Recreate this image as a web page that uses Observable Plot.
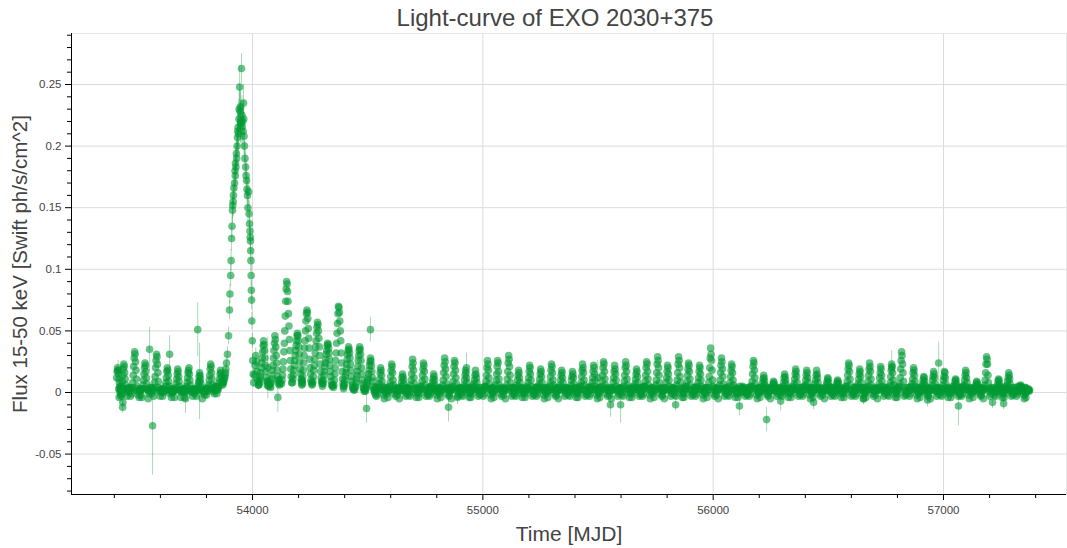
<!DOCTYPE html>
<html><head><meta charset="utf-8">
<script src="https://cdn.jsdelivr.net/npm/d3@7"></script>
<script src="https://cdn.jsdelivr.net/npm/@observablehq/plot@0.6"></script>
<style>body{margin:0;background:#fff}</style>
</head><body><div id="chart"></div>
<script>
const titleText = "Light-curve of EXO 2030+375";
const xLabel = "Time [MJD]";
const yLabel = "Flux 15-50 keV [Swift ph/s/cm^2]";
const xTicks = [54000, 55000, 56000, 57000];
const yTicks = [-0.05, 0, 0.05, 0.1, 0.15, 0.2, 0.25];
const xDomain = [53214, 57534];
const yDomain = [-0.0828, 0.2914];

// sampling offsets (days) around each orbital outburst
const cycleOffset = [-22,-20,-18,-16,-14,-12,-10,-8,-6,-4,-2,0,2,4,6,8,10,12,14,16,18,20,22];
const cycleCenter = [
53414,53441,53488,53533,53583,53630,53675,53722,53770,53818,53861,
54048,54097,54148,54195,54236,54282,54326,54373,54417,54465,54512,
54556,54604,54651,54695,54742,54786,54834,54877,54925,54968,
55020,55064,55112,55155,55203,55251,55298,55342,55389,55433,
55481,55524,55572,55620,55667,55711,55759,55802,55850,55893,
55941,55989,56036,56080,56128,56175,56219,56262,56310,56358,
56406,56449,56497,56540,56588,56636,56679,56727,56775,56818,
56870,56914,56957,57004,57052,57096,57144,57187,57239,57283,
57335,57374];
// flux in units of 0.001 ph/s/cm^2 (null = no observation)
const n = null;
const cycleFlux = [
[n,n,n,n,n,n,n,n,n, 12,17,20,18,15,11,8,5,3,1,-3,2,-1,3],
[3,-4,1,4,-2,2, 3,5,9,14,19,23,21,16,11,6,3, 2,-3,3,0,1,4],
[2,4,-3,3,1,-1, 4,8,14,21,28,33,31,25,18,11,5, 3,1,-2,2,-4,1],
[1,3,-2,2,-4,3, 3,6,10,15,20,24,22,17,12,7,3, 2,-5,1,-1,2,4],
[4,-1,2,1,3,-3, 4,8,13,20,26,31,29,23,16,9,4, 1,2,-3,3,0,2],
[2,-3,3,0,2,1, 2,5,8,12,17,20,18,14,9,5,2, -1,3,1,-4,2,0],
[0,3,1,2,-4,2, 2,4,7,11,15,19,17,13,9,5,2, 1,-4,2,0,3,1],
[3,1,-4,2,0,1, 3,5,8,12,16,18,20,15,10,6,3, 0,1,2,-3,1,3],
[2,-1,1,3,-3,2, 2,4,6,9,13,16,14,11,7,4,2, -5,1,0,2,1,-2],
[1,3,-2,2,4,1, 3,6,10,14,19,23,21,16,11,6,3, 1,4,-1,2,3,5],
[2,5,3,-1,4,2, 3,5,8,11,15,18,16,13,9,7,6, 8,9,11,12,14,16],
[6,9,7,11,13,16, 20,24,28,33,38,42,39,34,28,22,17, 12,9,6,9,5,7],
[5,7,4,8,11,14, 18,22,28,34,40,46,43,37,30,24,18, 13,10,7,10,6,8],
[7,10,14,19,25,33, 40,50,62,74,84,90,88,82,74,64,54, 43,34,26,19,13,8],
[8,11,14,18,22,26, 30,34,38,42,46,48,46,42,37,31,25, 19,15,11,8,10,7],
[6,9,13,18,24,30, 36,42,50,58,64,67,65,60,52,44,36, 27,20,15,10,8,6],
[7,9,13,18,22,27, 32,37,42,48,53,57,55,50,44,37,30, 23,17,12,9,7,8],
[5,7,10,14,17,21, 24,27,31,34,38,40,39,36,32,27,22, 17,13,9,6,5,6],
[4,6,10,15,20,26, 32,40,48,56,64,70,69,65,58,50,42, 32,24,17,11,7,5],
[3,5,7,10,13,16, 19,23,27,31,34,37,35,32,28,23,18, 13,9,6,4,3,2],
[2,4,5,8,11,14, 17,21,26,30,34,37,35,31,26,20,15, 10,7,4,3,1,2],
[1,3,4,6,8,10, 12,15,18,22,25,28,26,22,17,12,9, 5,3,2,0,1,-2],
[1,4,-3,2,-1,5, 2,4,7,11,16,20,18,14,9,5,2, 3,-2,-5,1,4,0],
[3,-1,4,-4,1,2, 2,5,8,13,18,23,21,16,10,6,2, -1,4,2,-3,3,1],
[-2,3,1,4,-5,2, 1,3,5,8,12,15,13,10,7,3,1, 1,-3,3,-1,4,2],
[4,1,-2,3,0,-3, 3,6,10,15,21,27,24,18,12,7,3, 2,-1,-4,4,0,3],
[0,-4,3,-1,2,5, 3,5,9,14,19,24,22,17,11,6,2, -3,2,-1,1,-2,4],
[1,4,-3,2,-1,5, 1,3,5,8,11,15,13,10,6,3,1, 3,-2,-5,1,4,0],
[3,-1,4,-4,1,2, 3,6,10,16,22,28,25,19,13,7,3, -1,4,2,-3,3,1],
[-2,3,1,4,-5,2, 3,5,9,15,21,26,24,18,12,7,3, 1,-3,3,-1,4,2],
[4,1,-2,3,0,-3, 2,4,6,10,14,18,16,12,8,4,2, 2,-1,-4,4,0,3],
[0,-4,3,-1,2,5, 2,4,7,10,14,18,15,12,8,4,2, -3,2,-1,1,-2,4],
[1,4,-3,2,-1,5, 3,5,9,14,20,26,23,18,12,7,3, 3,-2,-5,1,4,0],
[3,-1,4,-4,1,2, 3,6,10,15,21,26,24,17,11,6,3, -1,4,2,-3,3,1],
[-2,3,1,4,-5,2, 3,6,11,17,24,30,27,21,14,8,4, 1,-3,3,-1,4,2],
[4,1,-2,3,0,-3, 2,4,6,10,14,18,16,12,8,4,2, 2,-1,-4,4,0,3],
[0,-4,3,-1,2,5, 2,4,8,12,17,22,20,15,10,5,2, -3,2,-1,1,-2,4],
[1,4,-3,2,-1,5, 2,4,7,11,15,19,17,13,8,4,2, 3,-2,-5,1,4,0],
[3,-1,4,-4,1,2, 2,5,8,13,18,23,21,16,10,6,2, -1,4,2,-3,3,1],
[-2,3,1,4,-5,2, 2,4,6,10,14,18,16,12,8,4,2, 1,-3,3,-1,4,2],
[4,1,-2,3,0,-3, 2,3,6,10,13,17,15,12,7,4,1, 2,-1,-4,4,0,3],
[0,-4,3,-1,2,5, 2,5,8,13,18,23,20,16,10,6,2, -3,2,-1,1,-2,4],
[1,4,-3,2,-1,5, 2,4,8,12,17,22,20,15,10,5,2, 3,-2,-5,1,4,0],
[3,-1,4,-4,1,2, 3,5,9,14,20,25,23,17,11,6,3, -1,4,2,-3,3,1],
[-2,3,1,4,-5,2, 2,4,8,12,17,22,19,15,10,5,2, 1,-3,3,-1,4,2],
[4,1,-2,3,0,-3, 3,5,9,14,20,25,22,17,11,6,3, 2,-1,-4,4,0,3],
[0,-4,3,-1,2,5, 2,4,7,11,15,19,17,13,8,4,2, -3,2,-1,1,-2,4],
[1,4,-3,2,-1,5, 3,5,9,14,20,25,23,17,11,6,3, 3,-2,-5,1,4,0],
[3,-1,4,-4,1,2, 3,6,10,16,23,29,26,20,14,8,3, -1,4,2,-3,3,1],
[-2,3,1,4,-5,2, 2,4,8,12,17,22,20,15,10,5,2, 1,-3,3,-1,4,2],
[4,1,-2,3,0,-3, 3,6,10,16,23,29,26,20,13,8,3, 2,-1,-4,4,0,3],
[0,-4,3,-1,2,5, 3,5,9,14,19,24,22,17,11,6,2, -3,2,-1,1,-2,4],
[1,4,-3,2,-1,5, 2,4,8,12,17,22,20,15,10,5,2, 3,-2,-5,1,4,0],
[3,-1,4,-4,1,2, 4,8,13,20,28,36,31,26,18,10,5, -1,4,2,-3,3,1],
[-2,3,1,4,-5,2, 3,6,10,16,22,28,25,19,13,7,3, 1,-3,3,-1,4,2],
[4,1,-2,3,0,-3, 2,5,8,13,18,23,21,16,10,6,2, 2,-1,-4,4,0,3],
[0,-4,3,-1,2,5, 0,1,2,3,4,5,4,3,2,1,0, -3,2,-1,1,-2,4],
[1,4,-3,2,-1,5, 3,5,9,15,21,26,24,18,12,7,3, 3,-2,-5,1,4,0],
[3,-1,4,-4,1,2, 1,3,5,8,11,14,12,9,6,3,1, -1,4,2,-3,3,1],
[-2,3,1,4,-5,2, 1,2,3,5,7,9,8,6,4,2,1, 1,-3,3,-1,4,2],
[4,1,-2,3,0,-3, 1,3,5,8,12,15,13,10,7,3,1, 2,-1,-4,4,0,3],
[0,-4,3,-1,2,5, 2,4,7,11,15,19,17,13,8,4,2, -3,2,-1,1,-2,4],
[1,4,-3,2,-1,5, 2,4,6,10,14,18,16,12,8,4,2, 3,-2,-5,1,4,0],
[3,-1,4,-4,1,2, 2,4,7,10,14,18,15,12,8,4,2, -1,4,2,-3,3,1],
[-2,3,1,4,-5,2, 1,2,4,7,9,12,11,8,5,3,1, 1,-3,3,-1,4,2],
[4,1,-2,3,0,-3, 1,2,4,6,8,10,9,7,4,2,1, 2,-1,-4,4,0,3],
[0,-4,3,-1,2,5, 3,5,9,14,19,24,22,17,11,6,2, -3,2,-1,1,-2,4],
[1,4,-3,2,-1,5, 2,4,7,11,15,19,17,13,8,4,2, 3,-2,-5,1,4,0],
[3,-1,4,-4,1,2, 3,5,9,14,19,24,21,17,11,6,2, -1,4,2,-3,3,1],
[-2,3,1,4,-5,2, 2,4,7,12,16,21,19,14,9,5,2, 1,-3,3,-1,4,2],
[4,1,-2,3,0,-3, 2,5,8,13,18,23,21,16,10,6,2, 2,-1,-4,4,0,3],
[0,-4,3,-1,2,5, 4,7,12,19,26,33,30,23,16,9,4, -3,2,-1,1,-2,4],
[1,4,-3,2,-1,5, 2,4,7,11,16,20,18,14,9,5,2, 3,-2,-5,1,4,0],
[3,-1,4,-4,1,2, 1,3,5,7,10,13,12,9,6,3,1, -1,4,2,-3,3,1],
[-2,3,1,4,-5,2, 2,3,6,10,13,17,15,12,7,4,1, 1,-3,3,-1,4,2],
[4,1,-2,3,0,-3, 2,3,6,10,13,17,16,12,7,4,1, 2,-1,-4,4,0,3],
[0,-4,3,-1,2,5, 1,2,4,6,9,11,10,7,5,2,1, -3,2,-1,1,-2,4],
[1,4,-3,2,-1,5, 2,4,6,10,14,18,16,12,8,4,2, 3,-2,-5,1,4,0],
[3,-1,4,-4,1,2, 1,2,3,5,7,9,8,6,4,2,1, -1,4,2,-3,3,1],
[-2,3,1,4,-5,2, 3,6,10,16,23,29,27,23,14,8,3, 1,-3,3,-1,4,2],
[4,1,-2,3,0,-3, 1,2,4,6,9,11,10,7,5,2,1, 2,-1,-4,4,0,3],
[0,-4,3,-1,2,5, 2,3,6,9,12,16,14,11,7,4,1, -3,2,-1,1,-2,4],
[1,4,-3,2,-1,5, 1,1,2,4,5,6,5,4,3,2,1, 3,-2,-5,1,4,0],
[3,-1,4,-4,1,2, 1,2,3,2,1,2,n,n,n,n,n, n,n,n,n,n,n]
];

// 2006 giant outburst (denser sampling), flux and error in 0.001 units
const giantMJD = [53884,53887,53891,53896,53900,53902,53905,53907,53909,53911,53913,53914,53916,53917,53919,53922,53924,53925,53926,53928,53930,53931,53933,53935,53936,53937,53939,53941,53942,53944,53946,53947,53948,53950,53952,53954,53955,53957,53959,53961,53962,53963,53965,53967,53970,53972,53974,53976,53978,53980,53983,53985,53987,53989,53990,53991,53992,53993,53994,53995,53996,53997,53999,54001,54003,54005,54008,54011,54014,54017,54020,54023,54026];
const giantFlux = [19,24,31,46,67,80,95,107,125,135,148,152,155,160,166,170,180,176,186,183,194,190,200,207,212,215,210,222,230,248,228,218,232,220,263,225,216,220,212,235,222,208,200,190,183,176,172,165,160,150,163,145,137,131,126,123,115,107,95,83,75,58,42,26,15,8,14,22,30,25,17,10,6];
const giantErr = [5,5,6,7,8,8,9,9,10,10,11,11,12,12,12,13,13,13,14,14,14,14,15,15,15,15,16,16,16,17,16,16,17,17,12,16,16,16,15,15,15,15,14,14,13,13,13,12,12,12,12,11,11,10,10,10,9,9,9,8,8,7,6,5,5,4,5,5,6,5,5,4,4];

// noisy points with visible error bars
const outMJD = [53416,53436,53437,53553,53566,53640,53709,53762,53770,54066,54110,54495,54512,54851,54890,54929,55499,55554,55598,55837,56114,56232,56293,56436,56653,56775,56931,56979,57065,57213,57261];
const outFlux = [18,-12,-8,35,-27,31,-5,51,9,20,-4,-13,51,-12,-4,20,12,-10,-10,-10,-11,-22,-7,-8,-5,20,-6,24,-11,-8,-9];
const outErr = [8,5,4,18,40,15,12,22,31,25,12,12,10,12,6,12,14,10,15,5,8,10,8,6,5,14,6,17,16,5,5];

const points = [];
cycleCenter.forEach((c, i) => cycleFlux[i].forEach((f, j) => {
  if (f !== null) points.push({mjd: c + cycleOffset[j], flux: f / 1000});
}));
giantMJD.forEach((m, i) => points.push({mjd: m, flux: giantFlux[i] / 1000, err: giantErr[i] / 1000}));
outMJD.forEach((m, i) => points.push({mjd: m, flux: outFlux[i] / 1000, err: outErr[i] / 1000}));
const withErr = points.filter(d => d.err);

const minorX = d3.range(53400, 57401, 200).filter(v => v % 1000 !== 0);
const minorY = d3.range(-8, 30).filter(v => v % 5 !== 0).map(v => v / 100);
const fmtY = d => String(+(+d).toFixed(2));

const green = "#009933";
const gridColor = "#dcdcdc";
const textColor = "#444";

const chart = Plot.plot({
  width: 1067, height: 548,
  marginLeft: 71, marginRight: 1, marginTop: 33, marginBottom: 54,
  x: {domain: xDomain},
  y: {domain: yDomain},
  style: {fontFamily: "'Liberation Sans', Arial, Helvetica, sans-serif", background: "#fff", overflow: "visible"},
  marks: [
    Plot.gridX(xTicks, {stroke: gridColor, strokeOpacity: 1}),
    Plot.gridY(yTicks, {stroke: gridColor, strokeOpacity: 1}),
    Plot.frame({stroke: "#e5e5e5"}),
    Plot.ruleX(withErr, {x: "mjd", y1: d => d.flux - d.err, y2: d => d.flux + d.err, stroke: green, strokeOpacity: 0.35}),
    Plot.dot(points, {x: "mjd", y: "flux", r: 3.8, fill: green, fillOpacity: 0.6}),
    Plot.ruleX([xDomain[0]], {stroke: "#000"}),
    Plot.ruleY([yDomain[0]], {stroke: "#000"}),
    Plot.axisX(xTicks, {tickSize: 6, tickPadding: 5, tickFormat: d => String(d), fontSize: 11.5, fill: textColor, stroke: "#000", label: null}),
    Plot.axisX(minorX, {tickSize: 4, tickFormat: () => "", stroke: "#000", label: null}),
    Plot.axisY(yTicks, {tickSize: 6, tickPadding: 4, tickFormat: fmtY, fontSize: 11.5, fill: textColor, stroke: "#000", label: null}),
    Plot.axisY(minorY, {tickSize: 4, tickFormat: () => "", stroke: "#000", label: null}),
    Plot.text([titleText], {text: d => d, frameAnchor: "top", lineAnchor: "middle", dx: -14, dy: -15, fontSize: 24, fill: textColor}),
    Plot.text([xLabel], {text: d => d, frameAnchor: "bottom", lineAnchor: "middle", dy: 40, fontSize: 21, fill: textColor}),
    Plot.text([yLabel], {text: d => d, frameAnchor: "left", textAnchor: "middle", lineAnchor: "middle", dx: -51, rotate: -90, fontSize: 20.5, fill: textColor})
  ]
});
document.getElementById("chart").appendChild(chart);
</script>
</body></html>
